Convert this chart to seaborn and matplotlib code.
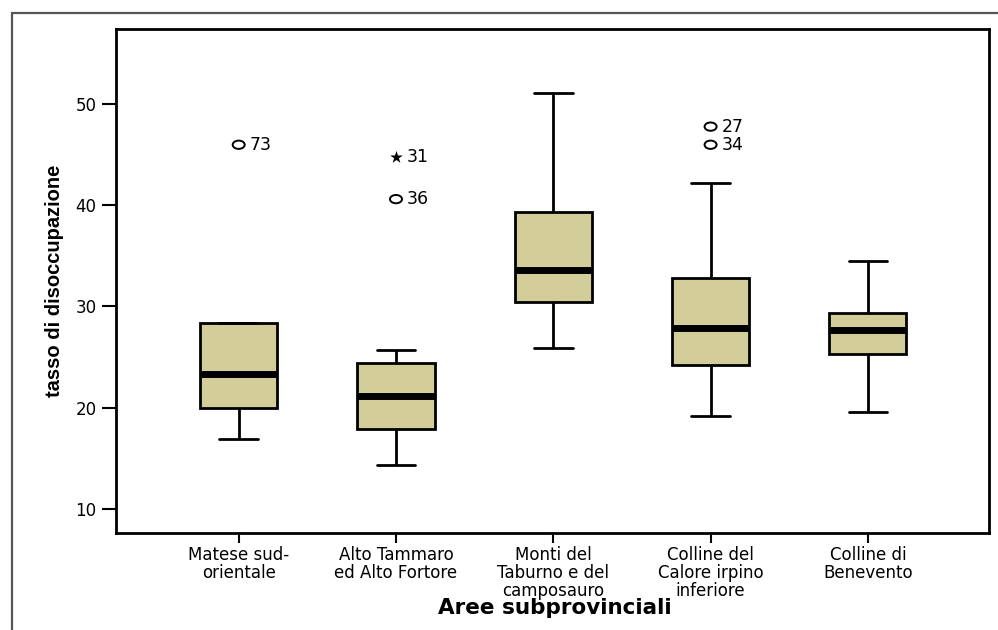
import numpy as np
import pandas as pd
import matplotlib
matplotlib.use("Agg")
import matplotlib.pyplot as plt
from matplotlib.lines import Line2D
from matplotlib.path import Path
from matplotlib.transforms import Affine2D
import seaborn as sns

# ---- data (summary statistics per area) ----
areas = ["Matese sud-\norientale", "Alto Tammaro\ned Alto Fortore",
         "Monti del\nTaburno e del\ncamposauro", "Colline del\nCalore irpino\ninferiore",
         "Colline di\nBenevento"]
whisker_low = [16.87, 14.30, 25.92, 19.17, 19.57]
q1 = [20.00, 17.92, 30.43, 24.21, 25.30]
median = [23.35, 21.18, 33.60, 27.87, 27.67]
q3 = [28.36, 24.38, 39.36, 32.81, 29.35]
whisker_high = [28.36, 25.69, 51.12, 42.19, 34.49]

# outliers: (area index, value, case label, extreme?)
out_area = [0, 1, 1, 3, 3]
out_value = [45.97, 44.80, 40.60, 47.76, 45.97]
out_label = ["73", "31", "36", "27", "34"]
out_extreme = [False, True, False, False, False]

ylabel = "tasso di disoccupazione"
xlabel = "Aree subprovinciali"
yticks = [10, 20, 30, 40, 50]

# ---- build samples whose quartiles/whiskers reproduce the read statistics ----
rows = []
for i, a in enumerate(areas):
    outs = [v for j, v in zip(out_area, out_value) if j == i]
    m = len(outs)
    k = m + 1
    sample = ([whisker_low[i]] + [q1[i]] * k + [median[i]] * k +
              [q3[i]] * (2 * k - m - 1) + [whisker_high[i]] + sorted(outs))
    rows += [(a, v) for v in sample]
df = pd.DataFrame(rows, columns=["area", "val"])

sns.set_style("white")
plt.rcParams["font.family"] = ["DejaVu Sans"]
plt.rcParams["text.color"] = "black"
plt.rcParams["axes.labelcolor"] = "black"
plt.rcParams["xtick.color"] = "black"
plt.rcParams["ytick.color"] = "black"

W, H = 998, 630
fig = plt.figure(figsize=(W / 100, H / 100), dpi=100)
ax = fig.add_axes([116 / W, 1 - 533 / H, (989 - 116) / W, (533 - 29) / H])

box_color = "#D3CE99"
sns.boxplot(data=df, x="area", y="val", order=areas, ax=ax,
            color=box_color, saturation=1, width=0.49, linecolor="black",
            linewidth=2.0, showfliers=False,
            medianprops=dict(linewidth=5.0, color="black"),
            whiskerprops=dict(linewidth=2.0), capprops=dict(linewidth=2.0))

# outlier markers (wide ellipse like the reference)
ellipse = Path.unit_circle().transformed(Affine2D().scale(1.45, 1.0))
for j in range(len(out_value)):
    xi = out_area[j]
    if out_extreme[j]:
        ax.scatter([xi], [out_value[j]], marker="*", s=90, color="black", zorder=5,
                   linewidths=0)
    else:
        ax.scatter([xi], [out_value[j]], marker=ellipse, s=75, facecolors="none",
                   edgecolors="black", linewidths=1.4, zorder=5)
    ax.annotate(out_label[j], (xi, out_value[j]), xytext=(8, 0),
                textcoords="offset points", ha="left", va="center", fontsize=12.5,
                color="black")

ax.set_xlim(-0.78, 4.77)
ax.set_ylim(7.63, 57.4)
ax.set_yticks(yticks)
ax.set_yticklabels([str(t) for t in yticks])

for s in ax.spines.values():
    s.set_visible(True)
    s.set_linewidth(2.0)
    s.set_color("black")

ax.tick_params(axis="y", direction="out", length=10, width=1.5, pad=4,
               labelsize=12, left=True, colors="black")
ax.tick_params(axis="x", direction="out", length=7, width=1.5, pad=2,
               labelsize=12, bottom=True, colors="black")
for lab in ax.get_xticklabels():
    lab.set_linespacing(1.02)
    lab.set_ha("center")

ax.set_xlabel(xlabel, fontsize=15.5, fontweight="bold", color="black")
ax.xaxis.set_label_coords((555 - 116) / 873, (533 - 608) / 504)
ax.xaxis.label.set_va("center")
ax.set_ylabel(ylabel, fontsize=14.5, fontweight="bold", color="black",
              family=["Liberation Sans", "DejaVu Sans"])
ax.yaxis.set_label_coords((55 - 116) / 873, (533 - 281) / 504)
ax.yaxis.label.set_va("center")

# outer gray frame
fig.add_artist(Line2D([12 / W, 1.0], [1 - 13 / H, 1 - 13 / H], color="#555555",
                      linewidth=1.6, transform=fig.transFigure))
fig.add_artist(Line2D([12 / W, 12 / W], [0.0, 1 - 13 / H], color="#555555",
                      linewidth=1.6, transform=fig.transFigure))

fig.savefig("out.png", dpi=100)
